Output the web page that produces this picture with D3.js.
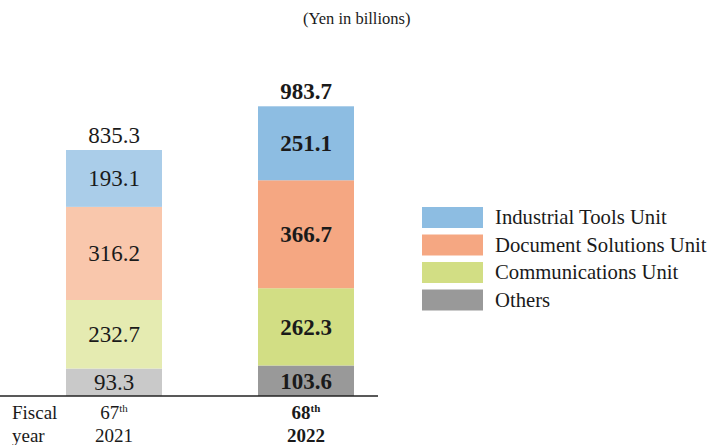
<!DOCTYPE html>
<html lang="en">
<head>
<meta charset="UTF-8">
<title>Segment sales</title>
<script src="https://d3js.org/d3.v7.min.js"></script>
<style>
  body { margin: 0; background: #fff; }
  text { font-family: "Liberation Serif", "Times New Roman", serif; fill: #1a1a1a; }
</style>
</head>
<body>
<div id="chart"></div>
<script>
// data
const years = ["2021", "2022"];
const ordinals = ["67", "68"];
const segments = ["Others", "Communications Unit", "Document Solutions Unit", "Industrial Tools Unit"];
const others = [93.3, 103.6];
const communications = [232.7, 262.3];
const documentSolutions = [316.2, 366.7];
const industrialTools = [193.1, 251.1];
const totals = [835.3, 983.7];

const fullColors = ["#999999", "#d2de84", "#f5a782", "#8dbde2"];
const fadedColors = ["#c9c9c9", "#e5ebb1", "#f9c7ac", "#aacde9"];

const width = 709, height = 445;
const baseY = 396;

const svg = d3.select("#chart").append("svg")
    .attr("width", width)
    .attr("height", height);

const rows = years.map((y, i) => ({
    year: y,
    idx: i,
    "Others": others[i],
    "Communications Unit": communications[i],
    "Document Solutions Unit": documentSolutions[i],
    "Industrial Tools Unit": industrialTools[i]
}));

const stack = d3.stack().keys(segments)(rows);

const x = d3.scaleBand().domain(years).range([18, 402]).paddingInner(0.5).paddingOuter(0.25);
const y = d3.scaleLinear().domain([0, 1000]).range([baseY, baseY - 294.5]);

// bars
stack.forEach((layer, k) => {
    svg.selectAll(null)
        .data(layer)
        .enter()
        .append("rect")
        .attr("x", d => x(d.data.year))
        .attr("width", x.bandwidth())
        .attr("y", d => y(d[1]))
        .attr("height", d => y(d[0]) - y(d[1]))
        .attr("fill", d => d.data.idx === 0 ? fadedColors[k] : fullColors[k]);

    svg.selectAll(null)
        .data(layer)
        .enter()
        .append("text")
        .attr("x", d => x(d.data.year) + x.bandwidth() / 2)
        .attr("y", d => (y(d[0]) + y(d[1])) / 2 + 8)
        .attr("text-anchor", "middle")
        .style("font-size", "23px")
        .style("font-weight", d => d.data.idx === 1 ? "bold" : "normal")
        .text(d => d.data[layer.key].toFixed(1));
});

// totals
svg.selectAll(".total")
    .data(totals)
    .enter()
    .append("text")
    .attr("class", "total")
    .attr("x", (d, i) => x(years[i]) + x.bandwidth() / 2)
    .attr("y", d => y(d) - 7)
    .attr("text-anchor", "middle")
    .style("font-size", "23px")
    .style("font-weight", (d, i) => i === 1 ? "bold" : "normal")
    .text(d => d.toFixed(1));

// baseline
svg.append("line")
    .attr("x1", 0).attr("x2", 378)
    .attr("y1", baseY).attr("y2", baseY)
    .attr("stroke", "#222")
    .attr("stroke-width", 1.5);

// x labels
svg.append("text").attr("x", 12).attr("y", 419).style("font-size", "19px").text("Fiscal");
svg.append("text").attr("x", 12).attr("y", 442).style("font-size", "19px").text("year");

years.forEach((yr, i) => {
    const cx = x(yr) + x.bandwidth() / 2;
    const w = i === 1 ? "bold" : "normal";
    const t = svg.append("text")
        .attr("x", cx).attr("y", 419)
        .attr("text-anchor", "middle")
        .style("font-size", "19px")
        .style("font-weight", w);
    t.append("tspan").text(ordinals[i]);
    t.append("tspan").attr("dy", -7).style("font-size", "11px").text("th");
    svg.append("text")
        .attr("x", cx).attr("y", 442)
        .attr("text-anchor", "middle")
        .style("font-size", "19px")
        .style("font-weight", w)
        .text(yr);
});

// unit note
svg.append("text")
    .attr("x", 303).attr("y", 24)
    .style("font-size", "16.5px")
    .text("(Yen in billions)");

// legend
const legendOrder = segments.slice().reverse();
const legend = svg.selectAll(".legend")
    .data(legendOrder)
    .enter()
    .append("g")
    .attr("class", "legend")
    .attr("transform", (d, i) => `translate(422, ${207 + i * 27.5})`);

legend.append("rect")
    .attr("width", 61)
    .attr("height", 21)
    .attr("fill", d => fullColors[segments.indexOf(d)]);

legend.append("text")
    .attr("x", 73)
    .attr("y", 17)
    .style("font-size", "20.7px")
    .text(d => d);
</script>
</body>
</html>
